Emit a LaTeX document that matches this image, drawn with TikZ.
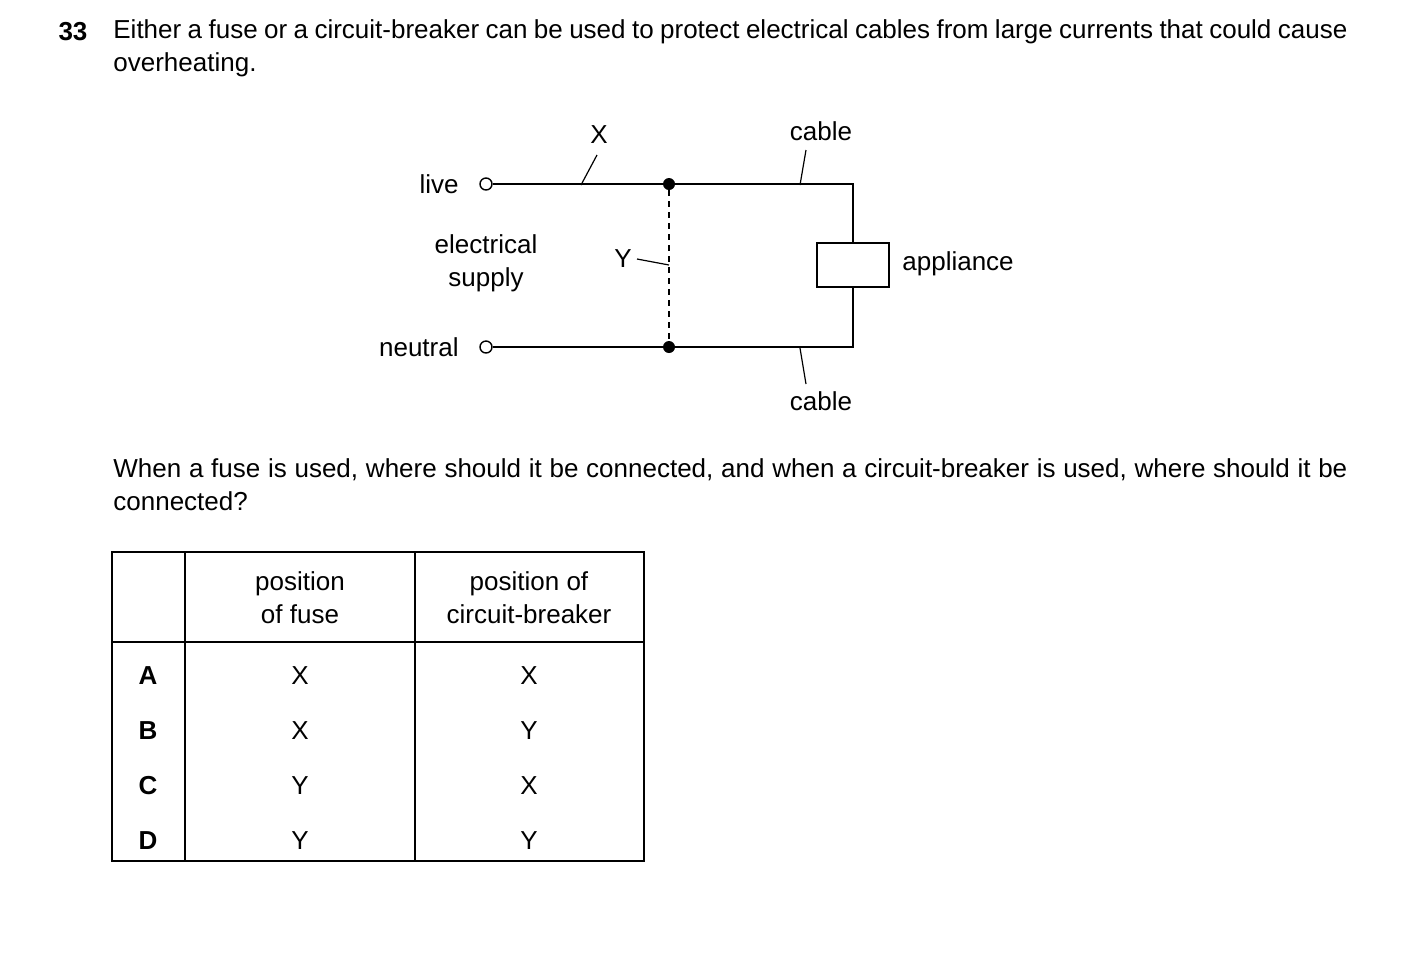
\documentclass[tikz,border=0pt]{standalone}
\usepackage{fontspec}
\setmainfont{Liberation Sans}
\usetikzlibrary{positioning}
\tikzset{
  txt/.style={inner sep=0pt, font=\fontsize{13}{16.5}\selectfont},
  term/.style={circle, draw, inner sep=0pt, minimum size=6pt, line width=0.7pt},
  junc/.style={circle, fill, inner sep=0pt, minimum size=6pt},
  wire/.style={line width=0.8pt},
  tick/.style={line width=0.6pt},
  grid/.style={line width=0.7pt}
}
\begin{document}
\begin{tikzpicture}[x=0.5pt, y=-0.5pt]
  \useasboundingbox (0,0) rectangle (1403,955);
  % question text
  \node[txt, font=\fontsize{13}{16.5}\selectfont\bfseries] (qnum) at (73,32) {33};
  \node[txt, anchor=north west, text width=617pt, align=justify] (qtext) at (113,19)
    {Either a fuse or a circuit-breaker can be used to protect electrical cables from large currents that could cause overheating.};
  % circuit
  \node[term] (live) at (486,184) {};
  \node[term] (neut) at (486,347) {};
  \node[txt, anchor=east] (livel) at (459,184) {live};
  \node[txt, anchor=east] (neutl) at (459,347) {neutral};
  \node[txt, align=center, font=\fontsize{13}{16.5}\selectfont] (supply) at (486,263) {electrical\\supply};
  \node[junc] (jt) at (669,184) {};
  \node[junc] (jb) at (669,347) {};
  \coordinate (ct) at (853,184);
  \coordinate (cb) at (853,347);
  \node[draw, line width=0.8pt, minimum width=36pt, minimum height=22pt, inner sep=0pt] (app) at (853,265) {};
  \draw[wire] (live) -- (jt) -- (ct) -- (app.north);
  \draw[wire] (neut) -- (jb) -- (cb) -- (app.south);
  \draw[wire, dash pattern=on 3pt off 2.5pt] (jt) -- (jb);
  \node[txt] (xl) at (599,135) {X};
  \draw[tick] (597,155) -- (581,185);
  \node[txt] (yl) at (623,259) {Y};
  \draw[tick] (637,259) -- (669,265);
  \node[txt] (cabt) at (821,131) {cable};
  \draw[tick] (806,150) -- (800,185);
  \node[txt] (cabb) at (821,401) {cable};
  \draw[tick] (800,348) -- (806,384);
  \node[txt, anchor=west] (appl) at (902,264) {appliance};
  % second question
  \node[txt, anchor=north west, text width=617pt, align=justify] (q2) at (113,458)
    {When a fuse is used, where should it be connected, and when a circuit-breaker is used, where should it be connected?};
  % table
  \draw[grid] (112,552) rectangle (644,861);
  \draw[grid] (112,642) -- (644,642);
  \draw[grid] (185,552) -- (185,861);
  \draw[grid] (415,552) -- (415,861);
  \node[txt, align=center] (h1) at (300,598) {position\\of fuse};
  \node[txt, align=center] (h2) at (529,598) {position of\\circuit-breaker};
  \foreach \l/\f/\c [count=\i] in {A/X/X, B/X/Y, C/Y/X, D/Y/Y} {
    \pgfmathsetmacro{\yy}{676+(\i-1)*54.7}
    \node[txt, font=\fontsize{13}{16.5}\selectfont\bfseries] (r\i) at (148,\yy) {\l};
    \node[txt] (f\i) at (300,\yy) {\f};
    \node[txt] (c\i) at (529,\yy) {\c};
  }
\end{tikzpicture}
\end{document}
